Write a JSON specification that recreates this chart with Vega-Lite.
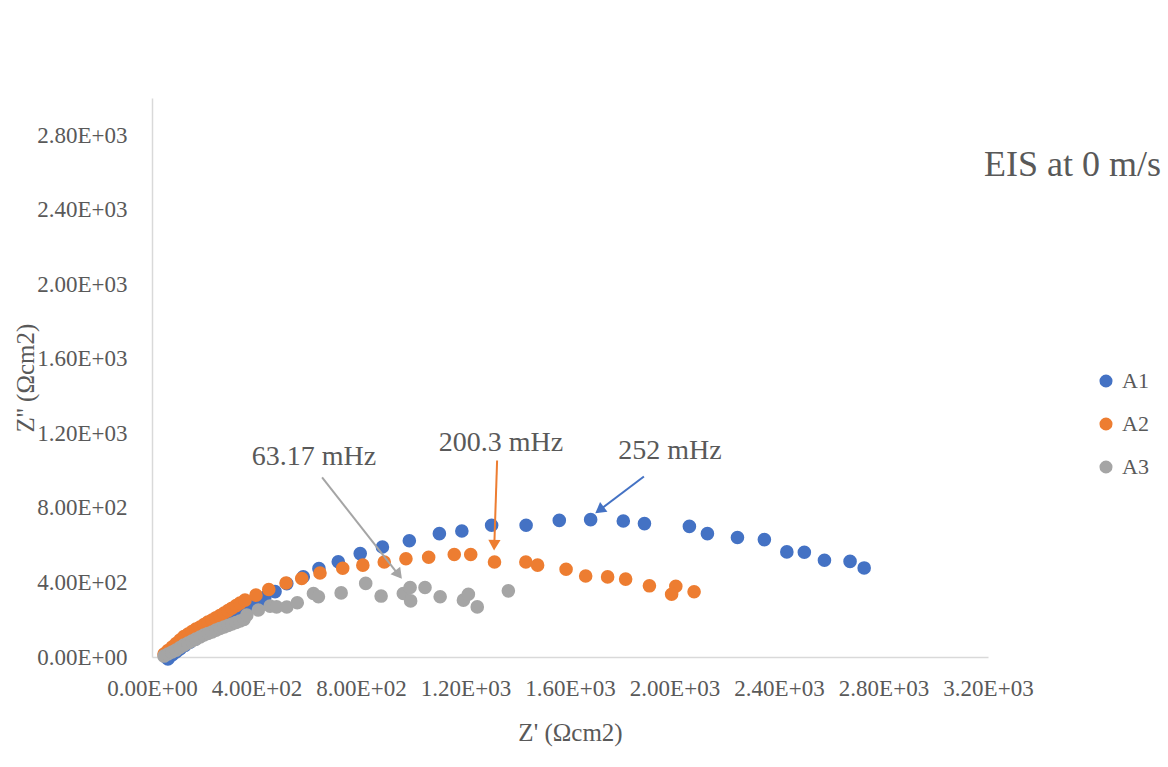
{
  "$schema": "https://vega.github.io/schema/vega-lite/v6.json",
  "width": 836,
  "height": 559,
  "autosize": {"type": "none"},
  "padding": {"left": 152, "top": 98, "right": 180, "bottom": 110},
  "background": "white",
  "title": {
    "text": "EIS at 0 m/s",
    "anchor": "start",
    "frame": "group",
    "orient": "top",
    "dx": 832,
    "dy": 118,
    "offset": 4,
    "baseline": "alphabetic",
    "font": "Liberation Serif",
    "fontSize": 36,
    "fontWeight": "normal",
    "color": "#595959"
  },
  "datasets": {
    "points": [
      {"sample": "A1", "zr": 61, "zi": -11}, {"sample": "A1", "zr": 77, "zi": 11}, {"sample": "A1", "zr": 92, "zi": 27},
      {"sample": "A1", "zr": 107, "zi": 43}, {"sample": "A1", "zr": 126, "zi": 62}, {"sample": "A1", "zr": 145, "zi": 80},
      {"sample": "A1", "zr": 165, "zi": 96}, {"sample": "A1", "zr": 184, "zi": 112}, {"sample": "A1", "zr": 203, "zi": 128},
      {"sample": "A1", "zr": 222, "zi": 145}, {"sample": "A1", "zr": 241, "zi": 161}, {"sample": "A1", "zr": 260, "zi": 177},
      {"sample": "A1", "zr": 279, "zi": 193}, {"sample": "A1", "zr": 299, "zi": 209}, {"sample": "A1", "zr": 318, "zi": 225},
      {"sample": "A1", "zr": 337, "zi": 241}, {"sample": "A1", "zr": 360, "zi": 262}, {"sample": "A1", "zr": 383, "zi": 278},
      {"sample": "A1", "zr": 406, "zi": 294}, {"sample": "A1", "zr": 432, "zi": 321}, {"sample": "A1", "zr": 471, "zi": 351},
      {"sample": "A1", "zr": 516, "zi": 394}, {"sample": "A1", "zr": 579, "zi": 431}, {"sample": "A1", "zr": 639, "zi": 474},
      {"sample": "A1", "zr": 713, "zi": 511}, {"sample": "A1", "zr": 797, "zi": 555}, {"sample": "A1", "zr": 882, "zi": 590},
      {"sample": "A1", "zr": 985, "zi": 624}, {"sample": "A1", "zr": 1100, "zi": 662}, {"sample": "A1", "zr": 1186, "zi": 676},
      {"sample": "A1", "zr": 1300, "zi": 707}, {"sample": "A1", "zr": 1432, "zi": 707}, {"sample": "A1", "zr": 1559, "zi": 733},
      {"sample": "A1", "zr": 1679, "zi": 737}, {"sample": "A1", "zr": 1804, "zi": 730}, {"sample": "A1", "zr": 1885, "zi": 716},
      {"sample": "A1", "zr": 2057, "zi": 701}, {"sample": "A1", "zr": 2126, "zi": 662}, {"sample": "A1", "zr": 2241, "zi": 641},
      {"sample": "A1", "zr": 2344, "zi": 630}, {"sample": "A1", "zr": 2430, "zi": 564}, {"sample": "A1", "zr": 2497, "zi": 562},
      {"sample": "A1", "zr": 2574, "zi": 519}, {"sample": "A1", "zr": 2672, "zi": 513}, {"sample": "A1", "zr": 2726, "zi": 478},

      {"sample": "A2", "zr": 46, "zi": 16}, {"sample": "A2", "zr": 61, "zi": 35}, {"sample": "A2", "zr": 77, "zi": 54},
      {"sample": "A2", "zr": 92, "zi": 72}, {"sample": "A2", "zr": 107, "zi": 91}, {"sample": "A2", "zr": 122, "zi": 110},
      {"sample": "A2", "zr": 138, "zi": 123}, {"sample": "A2", "zr": 153, "zi": 137}, {"sample": "A2", "zr": 168, "zi": 150},
      {"sample": "A2", "zr": 184, "zi": 161}, {"sample": "A2", "zr": 199, "zi": 174}, {"sample": "A2", "zr": 214, "zi": 187},
      {"sample": "A2", "zr": 230, "zi": 198}, {"sample": "A2", "zr": 245, "zi": 211}, {"sample": "A2", "zr": 260, "zi": 222},
      {"sample": "A2", "zr": 276, "zi": 236}, {"sample": "A2", "zr": 291, "zi": 249}, {"sample": "A2", "zr": 306, "zi": 262},
      {"sample": "A2", "zr": 322, "zi": 276}, {"sample": "A2", "zr": 337, "zi": 289}, {"sample": "A2", "zr": 356, "zi": 305},
      {"sample": "A2", "zr": 398, "zi": 332}, {"sample": "A2", "zr": 447, "zi": 362}, {"sample": "A2", "zr": 513, "zi": 397},
      {"sample": "A2", "zr": 573, "zi": 421}, {"sample": "A2", "zr": 643, "zi": 451}, {"sample": "A2", "zr": 730, "zi": 476},
      {"sample": "A2", "zr": 807, "zi": 493}, {"sample": "A2", "zr": 889, "zi": 510}, {"sample": "A2", "zr": 972, "zi": 527},
      {"sample": "A2", "zr": 1059, "zi": 535}, {"sample": "A2", "zr": 1157, "zi": 550}, {"sample": "A2", "zr": 1220, "zi": 550},
      {"sample": "A2", "zr": 1311, "zi": 510}, {"sample": "A2", "zr": 1431, "zi": 510}, {"sample": "A2", "zr": 1476, "zi": 493},
      {"sample": "A2", "zr": 1585, "zi": 471}, {"sample": "A2", "zr": 1660, "zi": 435}, {"sample": "A2", "zr": 1744, "zi": 430},
      {"sample": "A2", "zr": 1813, "zi": 418}, {"sample": "A2", "zr": 1904, "zi": 382}, {"sample": "A2", "zr": 2005, "zi": 380},
      {"sample": "A2", "zr": 1989, "zi": 337}, {"sample": "A2", "zr": 2075, "zi": 350},

      {"sample": "A3", "zr": 46, "zi": 5}, {"sample": "A3", "zr": 61, "zi": 16}, {"sample": "A3", "zr": 77, "zi": 27},
      {"sample": "A3", "zr": 92, "zi": 37}, {"sample": "A3", "zr": 107, "zi": 51}, {"sample": "A3", "zr": 122, "zi": 64},
      {"sample": "A3", "zr": 138, "zi": 75}, {"sample": "A3", "zr": 153, "zi": 86}, {"sample": "A3", "zr": 168, "zi": 96},
      {"sample": "A3", "zr": 184, "zi": 107}, {"sample": "A3", "zr": 199, "zi": 118}, {"sample": "A3", "zr": 214, "zi": 126},
      {"sample": "A3", "zr": 230, "zi": 134}, {"sample": "A3", "zr": 245, "zi": 144}, {"sample": "A3", "zr": 260, "zi": 153},
      {"sample": "A3", "zr": 276, "zi": 161}, {"sample": "A3", "zr": 291, "zi": 169}, {"sample": "A3", "zr": 306, "zi": 177},
      {"sample": "A3", "zr": 322, "zi": 185}, {"sample": "A3", "zr": 337, "zi": 193}, {"sample": "A3", "zr": 352, "zi": 201},
      {"sample": "A3", "zr": 363, "zi": 225}, {"sample": "A3", "zr": 407, "zi": 252}, {"sample": "A3", "zr": 452, "zi": 273},
      {"sample": "A3", "zr": 477, "zi": 269}, {"sample": "A3", "zr": 516, "zi": 268}, {"sample": "A3", "zr": 556, "zi": 291},
      {"sample": "A3", "zr": 618, "zi": 341}, {"sample": "A3", "zr": 637, "zi": 323}, {"sample": "A3", "zr": 724, "zi": 344},
      {"sample": "A3", "zr": 818, "zi": 395}, {"sample": "A3", "zr": 877, "zi": 327}, {"sample": "A3", "zr": 962, "zi": 341},
      {"sample": "A3", "zr": 988, "zi": 373}, {"sample": "A3", "zr": 990, "zi": 301}, {"sample": "A3", "zr": 1045, "zi": 373},
      {"sample": "A3", "zr": 1103, "zi": 323}, {"sample": "A3", "zr": 1192, "zi": 305}, {"sample": "A3", "zr": 1211, "zi": 337},
      {"sample": "A3", "zr": 1245, "zi": 269}, {"sample": "A3", "zr": 1364, "zi": 355}
    ],
    "notes": [
      {"sample": "A3", "label": "63.17 mHz", "tx": 620, "ty": 1071, "x1": 651, "y1": 964, "x2": 950, "y2": 430, "hx": 944, "hy": 442},
      {"sample": "A2", "label": "200.3 mHz", "tx": 1336, "ty": 1146, "x1": 1321, "y1": 1055, "x2": 1310, "y2": 590, "hx": 1310, "hy": 600},
      {"sample": "A1", "label": "252 mHz", "tx": 1983, "ty": 1108, "x1": 1883, "y1": 969, "x2": 1705, "y2": 780, "hx": 1713, "hy": 788}
    ]
  },
  "config": {
    "view": {"stroke": null},
    "axis": {
      "grid": false,
      "ticks": false,
      "domainColor": "#d9d9d9",
      "domainWidth": 1.5,
      "labelFont": "Liberation Serif",
      "labelFontSize": 23,
      "labelColor": "#595959",
      "labelOverlap": false,
      "labelFlush": false,
      "labelBound": false,
      "titleFont": "Liberation Serif",
      "titleFontSize": 25,
      "titleFontWeight": "normal",
      "titleColor": "#595959"
    },
    "legend": {
      "orient": "none",
      "legendX": 943,
      "legendY": 272,
      "padding": 0,
      "labelFont": "Liberation Serif",
      "labelFontSize": 22,
      "labelColor": "#595959",
      "labelOffset": 5,
      "symbolSize": 170,
      "symbolType": "circle",
      "rowPadding": 21
    }
  },
  "layer": [
    {
      "data": {"name": "points"},
      "mark": {"type": "circle", "size": 185, "opacity": 1},
      "encoding": {
        "x": {
          "field": "zr",
          "type": "quantitative",
          "scale": {"domain": [0, 3200], "nice": false, "zero": false},
          "axis": {
            "title": "Z' (Ωcm2)",
            "values": [0, 400, 800, 1200, 1600, 2000, 2400, 2800, 3200],
            "labelExpr": "replace(format(datum.value, '.2e'), 'e+', 'E+0')",
            "labelPadding": 20,
            "titlePadding": 20
          }
        },
        "y": {
          "field": "zi",
          "type": "quantitative",
          "scale": {"domain": [0, 3000], "nice": false, "zero": false},
          "axis": {
            "title": "Z'' (Ωcm2)",
            "values": [0, 400, 800, 1200, 1600, 2000, 2400, 2800],
            "labelExpr": "replace(format(datum.value, '.2e'), 'e+', 'E+0')",
            "labelPadding": 25,
            "titlePadding": -2
          }
        },
        "color": {
          "field": "sample",
          "type": "nominal",
          "scale": {"domain": ["A1", "A2", "A3"], "range": ["#4472C4", "#ED7D31", "#A5A5A5"]},
          "legend": {"title": null}
        }
      }
    },
    {
      "data": {"name": "notes"},
      "transform": [{"filter": "datum.sample == 'A3'"}],
      "mark": {"type": "rule", "color": "#A5A5A5", "strokeWidth": 2},
      "encoding": {
        "x": {"field": "x1", "type": "quantitative"},
        "y": {"field": "y1", "type": "quantitative"},
        "x2": {"field": "x2"},
        "y2": {"field": "y2"}
      }
    },
    {
      "data": {"name": "notes"},
      "transform": [{"filter": "datum.sample == 'A3'"}],
      "mark": {"type": "point", "shape": "triangle-up", "filled": true, "opacity": 1, "color": "#A5A5A5", "size": 150, "angle": 142},
      "encoding": {
        "x": {"field": "hx", "type": "quantitative"},
        "y": {"field": "hy", "type": "quantitative"}
      }
    },
    {
      "data": {"name": "notes"},
      "transform": [{"filter": "datum.sample == 'A2'"}],
      "mark": {"type": "rule", "color": "#ED7D31", "strokeWidth": 2},
      "encoding": {
        "x": {"field": "x1", "type": "quantitative"},
        "y": {"field": "y1", "type": "quantitative"},
        "x2": {"field": "x2"},
        "y2": {"field": "y2"}
      }
    },
    {
      "data": {"name": "notes"},
      "transform": [{"filter": "datum.sample == 'A2'"}],
      "mark": {"type": "point", "shape": "triangle-up", "filled": true, "opacity": 1, "color": "#ED7D31", "size": 150, "angle": 182},
      "encoding": {
        "x": {"field": "hx", "type": "quantitative"},
        "y": {"field": "hy", "type": "quantitative"}
      }
    },
    {
      "data": {"name": "notes"},
      "transform": [{"filter": "datum.sample == 'A1'"}],
      "mark": {"type": "rule", "color": "#4472C4", "strokeWidth": 2},
      "encoding": {
        "x": {"field": "x1", "type": "quantitative"},
        "y": {"field": "y1", "type": "quantitative"},
        "x2": {"field": "x2"},
        "y2": {"field": "y2"}
      }
    },
    {
      "data": {"name": "notes"},
      "transform": [{"filter": "datum.sample == 'A1'"}],
      "mark": {"type": "point", "shape": "triangle-up", "filled": true, "opacity": 1, "color": "#4472C4", "size": 150, "angle": 233},
      "encoding": {
        "x": {"field": "hx", "type": "quantitative"},
        "y": {"field": "hy", "type": "quantitative"}
      }
    },
    {
      "data": {"name": "notes"},
      "mark": {"type": "text", "font": "Liberation Serif", "fontSize": 28, "color": "#595959", "align": "center", "baseline": "middle"},
      "encoding": {
        "x": {"field": "tx", "type": "quantitative"},
        "y": {"field": "ty", "type": "quantitative"},
        "text": {"field": "label"}
      }
    }
  ]
}
